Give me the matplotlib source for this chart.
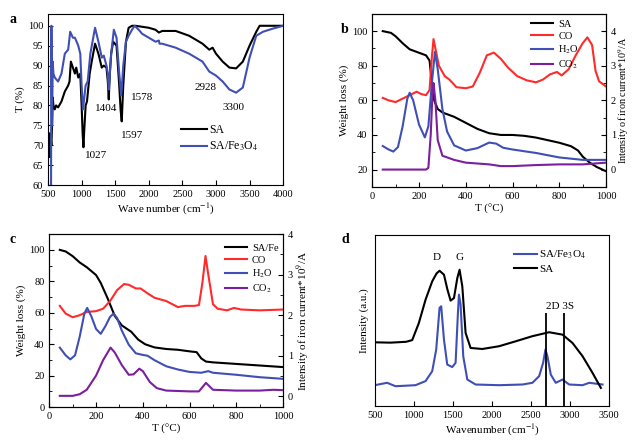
import numpy as np
import matplotlib
matplotlib.use("Agg")
import matplotlib.pyplot as plt
from matplotlib.ticker import MultipleLocator

plt.rcParams['font.family'] = ['Liberation Serif', 'DejaVu Serif']
plt.rcParams['mathtext.fontset'] = 'stix'
plt.rcParams['xtick.direction'] = 'in'
plt.rcParams['ytick.direction'] = 'in'
plt.rcParams['font.size'] = 7.5

# ---- panel a: FTIR ----
a_sa_x = [500, 510, 520, 530, 540, 550, 560, 570, 580, 600, 620, 650, 700, 750, 800, 820, 840, 870, 900,
          920, 950, 980, 1000, 1015, 1027, 1040, 1060, 1080, 1120, 1150, 1200, 1250, 1300, 1330, 1370,
          1390, 1404, 1420, 1440, 1470, 1520, 1560, 1580, 1597, 1620, 1660, 1700, 1750, 1800, 2000,
          2100, 2150, 2200, 2400, 2600, 2800, 2900, 2950, 3000, 3100, 3200, 3300, 3400, 3500, 3600,
          3650, 4000]
a_sa_y = [72, 68, 73, 67, 72, 70, 75, 82, 80, 79, 80, 79.5, 81, 83.5, 85, 86, 91, 89.5, 88,
          89.5, 87, 88, 80, 73, 69.5, 74, 80, 81, 88, 91, 95.5, 93, 89.5, 90, 89.5,
          86, 81.5, 88, 93, 96, 95, 85, 79, 76, 85, 96, 99.5, 100, 100, 99.5,
          99, 98.3, 98.7, 98.7, 97.5, 95.5, 94, 94.5, 93, 91, 89.5, 89.3, 91, 95, 98.5,
          100, 100]
a_fe_x = [500, 530, 545, 550, 555, 560, 570, 580, 600, 650, 700, 750, 800, 830, 870, 900, 950, 980,
          1000, 1020, 1040, 1060, 1090, 1130, 1200, 1250, 1300, 1330, 1370, 1390, 1404, 1420, 1440,
          1480, 1520, 1560, 1590, 1620, 1660, 1700, 1750, 1790, 1850, 1900, 2000, 2100, 2150, 2160,
          2200, 2400, 2600, 2800, 2900, 3000, 3100, 3200, 3300, 3400, 3500, 3600, 3700, 3850, 4000]
a_fe_y = [None, None, 60, 100, 92, 75, 91, 88, 87, 86, 88, 93, 94, 98.5, 97, 97, 95, 93,
          85, 79, 82, 85, 86, 93, 99.5, 96, 92, 92.5, 90, 88, 84, 88, 93,
          99, 97, 88, 82.5, 90, 96, 97.5, 99, 100, 99, 98, 97, 96, 96.3, 95.5,
          95.5, 94.5, 93, 91, 88.5, 87.5, 86, 84, 83.2, 84.5, 92, 97.5, 98.5, 99.3, 100]

# ---- panel b: SA TG-MS ----
b_sa_t = [45, 80, 100, 130, 160, 200, 230, 245, 255, 265, 280, 300, 350, 400, 450, 500, 550, 600,
          650, 700, 750, 800, 850, 880, 900, 930, 960, 1000]
b_sa_w = [100, 99, 97, 93, 89.5, 87.5, 86, 83, 70, 60, 55, 53, 50.5, 47, 43.5, 41, 40, 40,
          39.5, 38.5, 37, 35.5, 33.5, 31, 27.5, 24, 21.5, 19]
b_co_t = [45, 70, 100, 130, 160, 190, 210, 230, 245, 255, 262, 270, 285, 310, 330, 360, 400, 430,
          460, 490, 520, 550, 580, 620, 660, 700, 730, 760, 790, 810, 840, 870, 900, 920, 940,
          955, 970, 1000]
b_co_i = [2.07, 2.0, 1.95, 2.05, 2.15, 2.25, 2.18, 2.15, 2.3, 3.25, 3.77, 3.5, 3.0, 2.7, 2.6, 2.38, 2.35, 2.4,
          2.8, 3.3, 3.38, 3.2, 2.95, 2.7, 2.58, 2.52, 2.6, 2.75, 2.82, 2.72, 2.9, 3.3, 3.65, 3.82, 3.6,
          2.85, 2.55, 2.4]
b_h2o_t = [45, 70, 90, 110, 130, 150, 160, 175, 200, 225, 240, 255, 268, 280, 300, 320, 350, 400,
           450, 500, 530, 560, 600, 650, 700, 800, 900, 1000]
b_h2o_i = [0.68, 0.58, 0.52, 0.65, 1.25, 2.05, 2.22, 2.0, 1.3, 0.93, 1.25, 2.5, 3.4, 2.9, 1.75, 1.1, 0.7, 0.55,
           0.62, 0.78, 0.75, 0.63, 0.58, 0.53, 0.48, 0.35, 0.28, 0.28]
b_co2_t = [45, 230, 240, 250, 258, 262, 270, 280, 300, 350, 400, 500, 550, 600, 700, 800, 900, 1000]
b_co2_i = [0, 0, 0.05, 1.0, 2.25, 2.5, 2.0, 0.85, 0.4, 0.28, 0.2, 0.15, 0.1, 0.1, 0.13, 0.15, 0.15, 0.2]

# ---- panel c: SA/Fe TG-MS ----
c_sa_t = [45, 70, 100, 130, 160, 200, 220, 250, 280, 310, 350, 380, 410, 450, 500, 550, 600, 630,
          650, 670, 700, 800, 900, 1000]
c_sa_w = [100, 99, 96, 92, 89, 84, 79, 69, 58, 52, 48, 43, 40, 38, 37, 36.5, 35.5, 35,
          31, 29, 28.5, 27.5, 26.5, 25.5]
c_co_t = [45, 70, 100, 130, 160, 200, 230, 260, 290, 320, 340, 370, 390, 420, 450, 500, 550, 580,
          620, 640, 655, 668, 680, 700, 720, 760, 790, 820, 900, 1000]
c_co_i = [2.23, 2.04, 1.95, 2.0, 2.08, 2.1, 2.16, 2.35, 2.62, 2.77, 2.75, 2.66, 2.66, 2.54, 2.43, 2.35, 2.2, 2.23,
          2.23, 2.25, 2.81, 3.46, 3.0, 2.27, 2.16, 2.12, 2.18, 2.14, 2.12, 2.14]
c_h2o_t = [45, 70, 90, 110, 130, 150, 162, 180, 200, 220, 240, 260, 275, 290, 310, 340, 370, 400,
           420, 450, 500, 550, 600, 650, 680, 700, 800, 900, 1000]
c_h2o_i = [1.2, 1.01, 0.91, 1.01, 1.47, 2.04, 2.18, 1.97, 1.66, 1.54, 1.73, 1.96, 2.04, 1.93, 1.62, 1.27, 1.06, 1.02,
           1.0, 0.89, 0.74, 0.66, 0.6, 0.58, 0.62, 0.58, 0.53, 0.47, 0.43]
c_co2_t = [45, 100, 130, 160, 200, 230, 262, 280, 310, 340, 360, 385, 400, 430, 460, 500, 600, 640,
           670, 700, 800, 900, 960, 1000]
c_co2_i = [0.01, 0.01, 0.05, 0.16, 0.51, 0.89, 1.2, 1.08, 0.77, 0.53, 0.54, 0.68, 0.62, 0.35, 0.2, 0.14, 0.12, 0.12,
           0.33, 0.16, 0.14, 0.14, 0.16, 0.15]

# ---- panel d: Raman ----
d_sa_x = [500, 700, 900, 979, 1064, 1150, 1235, 1290, 1329, 1385, 1430, 1470, 1513, 1556, 1585, 1620,
          1662, 1726, 1876, 2090, 2303, 2517, 2731, 2902, 3030, 3158, 3286, 3393]
d_sa_y = [37.2, 37.0, 37.5, 38.5, 48.5, 62.2, 72.9, 77.5, 79.1, 76.8, 68, 61.6, 63.1, 74.8, 79.7, 69.9,
          42.7, 33.9, 33.3, 34.9, 37.8, 40.8, 43.1, 41.7, 36.8, 29.1, 19.3, 10.5]
d_fe_x = [500, 658, 765, 1021, 1150, 1235, 1286, 1329, 1350, 1385, 1427, 1491, 1534, 1564, 1577, 1598,
          1632, 1684, 1790, 2090, 2389, 2517, 2603, 2654, 2684, 2709, 2752, 2816, 2902, 2987, 3158,
          3244, 3414]
d_fe_y = [12.1, 13.5, 11.5, 12.1, 14.5, 20.3, 33, 57.4, 58.3, 38.9, 24.2, 22.7, 25.2, 54.5, 65.1, 59.3,
          29, 15.4, 12.5, 12.1, 12.5, 13.5, 17.4, 25.2, 33, 29, 18.3, 13.5, 15.4, 12.5, 12.1,
          13.5, 12.5]
d_lines = [2688, 2923]

blue = '#3f4fb5'
red = '#ff2b2b'
purple = '#7b1f9c'
lw = 1.5

fig = plt.figure(figsize=(6.32, 4.46), dpi=100)

# panel a
ax = fig.add_axes([0.076, 0.585, 0.372, 0.384])
ax.plot(a_sa_x, a_sa_y, color='black', lw=lw, label='SA')
fe = np.array([np.nan if v is None else v for v in a_fe_y])
ax.plot(a_fe_x, fe, color=blue, lw=lw, label='SA/Fe$_3$O$_4$')
ax.set_xlim(500, 4000)
ax.set_ylim(60, 103)
ax.xaxis.set_major_locator(MultipleLocator(500))
ax.yaxis.set_major_locator(MultipleLocator(5))
ax.set_xlabel('Wave number (cm$^{-1}$)', fontsize=8, labelpad=2)
ax.set_ylabel('T (%)', fontsize=8, labelpad=2)
for txt, x, y in [('1027', 1215, 67.5), ('1404', 1364, 79.3), ('1597', 1751, 72.5),
                  ('1578', 1900, 82), ('2928', 2838, 84.4), ('3300', 3255, 79.6)]:
    ax.text(x, y, txt, ha='center', va='center', fontsize=8)
ax.legend(loc='center left', bbox_to_anchor=(0.52, 0.27), frameon=False, fontsize=8.5,
          handlelength=2.2, handletextpad=0.2, labelspacing=0.3)
fig.text(0.015, 0.948, 'a', fontsize=10, fontweight='bold')

def tgms(rect, t, w, series, wlim, ilim, letter, lx, ly, rfs=8, rpad=1):
    ax = fig.add_axes(rect)
    ax2 = ax.twinx()
    l0, = ax.plot(t, w[0], color='black', lw=lw, label=w[1])
    hs = [l0]
    for (xs, ys, col, lab) in series:
        h, = ax2.plot(xs, ys, color=col, lw=lw, label=lab)
        hs.append(h)
    ax.set_xlim(0, 1000)
    ax.set_ylim(*wlim)
    ax2.set_ylim(*ilim)
    ax.xaxis.set_major_locator(MultipleLocator(200))
    ax.xaxis.set_minor_locator(MultipleLocator(100))
    ax.yaxis.set_major_locator(MultipleLocator(20))
    ax.yaxis.set_minor_locator(MultipleLocator(10))
    ax2.yaxis.set_major_locator(MultipleLocator(1))
    ax2.yaxis.set_minor_locator(MultipleLocator(0.5))
    ax2.tick_params(which='both', direction='in')
    ax.set_xlabel('T (\u00b0C)', fontsize=8, labelpad=2)
    ax.set_ylabel('Weight loss (%)', fontsize=8, labelpad=2)
    ax2.set_ylabel('Intensity of iron current*10$^9$/A', fontsize=rfs, labelpad=rpad)
    ax2.legend(handles=hs, loc='upper left', bbox_to_anchor=(lx, ly), frameon=False, fontsize=7.5,
               handlelength=2.1, handletextpad=0.5, labelspacing=0.25)
    fig.text(*letter, fontsize=10, fontweight='bold')

tgms([0.589, 0.581, 0.370, 0.388], b_sa_t, (b_sa_w, 'SA'),
     [(b_co_t, b_co_i, red, 'CO'), (b_h2o_t, b_h2o_i, blue, 'H$_2$O'),
      (b_co2_t, b_co2_i, purple, 'CO$_2$')],
     (10, 110), (-0.5, 4.5), (0.540, 0.925, 'b'), 0.64, 1.02, rfs=7.3, rpad=0)
tgms([0.078, 0.087, 0.370, 0.388], c_sa_t, (c_sa_w, 'SA/Fe'),
     [(c_co_t, c_co_i, red, 'CO'), (c_h2o_t, c_h2o_i, blue, 'H$_2$O'),
      (c_co2_t, c_co2_i, purple, 'CO$_2$')],
     (0, 110), (-0.27, 4), (0.015, 0.455, 'c'), 0.71, 1.0)

# panel d
ax = fig.add_axes([0.593, 0.090, 0.371, 0.383])
ax.plot(d_fe_x, d_fe_y, color=blue, lw=lw, label='SA/Fe$_3$O$_4$')
ax.plot(d_sa_x, d_sa_y, color='black', lw=lw, label='SA')
ax.vlines(d_lines, 0, 54.5, color='black', lw=1.3)
ax.set_xlim(500, 3500)
ax.set_ylim(0, 100)
ax.set_yticks([])
ax.xaxis.set_major_locator(MultipleLocator(500))
ax.set_xlabel('Wavenumber (cm$^{-1}$)', fontsize=8, labelpad=2)
ax.set_ylabel('Intensity (a.u.)', fontsize=8, labelpad=4)
ax.text(1299, 86.6, 'D', ha='center', va='center', fontsize=8)
ax.text(1590, 86.6, 'G', ha='center', va='center', fontsize=8)
ax.text(2870, 58, '2D 3S', ha='center', va='center', fontsize=8)
ax.legend(loc='upper left', bbox_to_anchor=(0.55, 0.98), frameon=False, fontsize=8,
          handlelength=2.1, handletextpad=0.2, labelspacing=0.3)
fig.text(0.540, 0.455, 'd', fontsize=10, fontweight='bold')

fig.savefig('out.png', dpi=100)
